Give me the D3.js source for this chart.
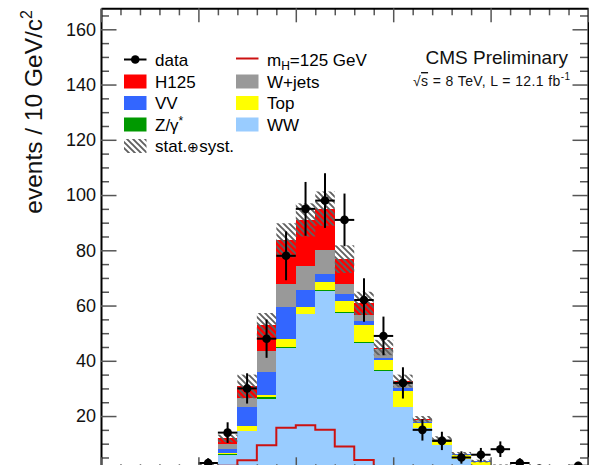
<!DOCTYPE html>
<html>
<head>
<meta charset="utf-8">
<script src="https://d3js.org/d3.v7.min.js"></script>
<style>
body { margin: 0; background: #fff; }
svg { display: block; font-family: "Liberation Sans", Arial, Helvetica, sans-serif; }
</style>
</head>
<body>
<svg id="chart" width="589" height="465"></svg>
<script>
// bin lower edges, 10 GeV wide
const binLow = [0, 10, 20, 30, 40, 50, 60, 70, 80, 90, 100, 110, 120, 130, 140, 150, 160, 170, 180, 190, 200, 210, 220, 230, 240];
const binWidth = 10;

// observed events
const dataCounts = [0, 0, 0, 0, 0, 3, 14, 30, 48, 78, 95, 98, 91, 62, 49, 32, 15, 11, 5, 6, 8, 3, 1, 0, 2];

// stacked backgrounds + signal (bottom to top)
const ww    = [0.2, 0.3, 0.4, 0.5, 0.7, 0.9, 6.0, 14.5, 26.3, 44.8, 56.8, 65.3, 57.3, 46.6, 36.4, 23.2, 15.6, 9.4, 4.3, 2.3, 1.4, 1.0, 0.7, 0.5, 0.9];
const zg    = [0, 0.1, 0.1, 0.1, 0.1, 0.1, 0.1, 0.2, 0.5, 0.3, 0.3, 0.3, 0.2, 0.1, 0.1, 0.1, 0.1, 0, 0, 0, 0, 0, 0, 0, 0];
const topQ  = [0.1, 0.1, 0.1, 0.2, 0.2, 0.2, 0.4, 1.7, 0.8, 2.8, 2.5, 2.9, 4.2, 6.4, 3.7, 5.9, 1.9, 1.9, 1.7, 1.2, 0.5, 0.4, 0.3, 0.2, 0.3];
const vv    = [0.1, 0.1, 0.1, 0.2, 0.2, 0.3, 1.6, 7.0, 8.5, 11.5, 6.0, 2.9, 2.6, 1.3, 0.9, 0.8, 0.3, 0.1, 0.1, 0.1, 0.1, 0.1, 0, 0, 0];
const wjets = [0.2, 0.3, 0.3, 0.3, 0.4, 0.3, 1.8, 3.3, 7.4, 8.4, 8.7, 8.7, 3.5, 2.3, 3.1, 2.3, 0.5, 0.3, 0.2, 0.1, 0.1, 0.1, 0.1, 0, 0.1];
const h125  = [0, 0, 0, 0.1, 0.1, 0.4, 2.0, 4.0, 9.4, 15.8, 16.7, 15.0, 9.0, 4.1, 0.6, 0.4, 0.4, 0.1, 0.1, 0, 0, 0, 0, 0, 0];

// stat+syst uncertainty on the total
const systUnc = [0.3, 0.3, 0.3, 0.3, 0.4, 0.5, 1.4, 4.3, 4.4, 6.2, 6.0, 6.2, 5.0, 4.2, 2.8, 2.3, 1.2, 0.9, 0.6, 0.5, 0.4, 0.3, 0.3, 0.3, 0.3];

// axis ticks
const yMajor = [0, 20, 40, 60, 80, 100, 120, 140, 160];
const xMajor = [0, 50, 100, 150, 200, 250];

const keys = ["WW", "Z", "Top", "VV", "Wjets", "H125"];
const colors = { WW: "#99ccff", Z: "#009900", Top: "#ffff00", VV: "#3366ff", Wjets: "#999999", H125: "#ff0000" };

let svg = d3.select("#chart");

let x = d3.scaleLinear().domain([0, 250]).range([101, 588]);
let y = d3.scaleLinear().domain([0, 167.6]).range([471.3, 8.3]);

// hatch pattern for the uncertainty band
let defs = svg.append("defs");
let pat = defs.append("pattern")
    .attr("id", "hatch")
    .attr("patternUnits", "userSpaceOnUse")
    .attr("width", 6)
    .attr("height", 6);
pat.append("path")
    .attr("d", "M0,0 L6,6 M-1,5 L1,7 M5,-1 L7,1")
    .attr("stroke", "#606060")
    .attr("stroke-width", 1.9);

// stack
let rows = binLow.map((b, i) => ({ x0: b, WW: ww[i], Z: zg[i], Top: topQ[i], VV: vv[i], Wjets: wjets[i], H125: h125[i] }));
let series = d3.stack().keys(keys)(rows);

svg.append("g")
    .selectAll("g")
    .data(series)
    .enter()
    .append("g")
    .attr("fill", d => colors[d.key])
    .selectAll("rect")
    .data(d => d)
    .enter()
    .append("rect")
    .attr("shape-rendering", "crispEdges")
    .attr("x", d => x(d.data.x0))
    .attr("width", d => x(d.data.x0 + binWidth) - x(d.data.x0))
    .attr("y", d => y(d[1]))
    .attr("height", d => y(d[0]) - y(d[1]));

// uncertainty band
let totals = rows.map(r => keys.reduce((s, k) => s + r[k], 0));
svg.append("g")
    .selectAll("rect")
    .data(binLow)
    .enter()
    .append("rect")
    .attr("x", d => x(d))
    .attr("width", d => x(d + binWidth) - x(d))
    .attr("y", (d, i) => y(totals[i] + systUnc[i]))
    .attr("height", (d, i) => y(Math.max(0, totals[i] - systUnc[i])) - y(totals[i] + systUnc[i]))
    .attr("fill", "url(#hatch)");

// signal alone as a line
let sigPts = binLow.map((b, i) => [b, h125[i]]);
sigPts.push([250, h125[h125.length - 1]]);
svg.append("path")
    .datum(sigPts)
    .attr("fill", "none")
    .attr("stroke", "#cc1111")
    .attr("stroke-width", 2)
    .attr("d", d3.line().x(d => x(d[0])).y(d => y(d[1])).curve(d3.curveStepAfter));

// data points
let pts = binLow.map((b, i) => ({ x0: b, n: dataCounts[i] })).filter(d => d.n > 0);
let dg = svg.append("g");
dg.selectAll(".ev")
    .data(pts)
    .enter()
    .append("line")
    .attr("x1", d => x(d.x0 + binWidth / 2))
    .attr("x2", d => x(d.x0 + binWidth / 2))
    .attr("y1", d => y(d.n - Math.sqrt(d.n)))
    .attr("y2", d => y(d.n + Math.sqrt(d.n)))
    .attr("stroke", "#000")
    .attr("stroke-width", 2);
dg.selectAll(".eh")
    .data(pts)
    .enter()
    .append("line")
    .attr("x1", d => x(d.x0))
    .attr("x2", d => x(d.x0 + binWidth))
    .attr("y1", d => y(d.n))
    .attr("y2", d => y(d.n))
    .attr("stroke", "#000")
    .attr("stroke-width", 2);
dg.selectAll("circle")
    .data(pts)
    .enter()
    .append("circle")
    .attr("cx", d => x(d.x0 + binWidth / 2))
    .attr("cy", d => y(d.n))
    .attr("r", 4.3)
    .attr("fill", "#000");

// axes, ROOT style ticks pointing inwards
let yMinor = d3.range(0, 167.6, 5).filter(v => v % 20 !== 0);
let xMinor = d3.range(0, 251, 10).filter(v => v % 50 !== 0);

function styleAxis(g, keepDomain) {
    g.selectAll(".tick line").attr("stroke", "#555").attr("stroke-width", 1.5);
    g.selectAll(".tick text").attr("font-size", 18).attr("fill", "#111")
        .attr("font-family", "'Liberation Sans', Arial, Helvetica, sans-serif");
    if (keepDomain) {
        g.select(".domain").attr("stroke", "#000").attr("stroke-width", 2);
    } else {
        g.select(".domain").remove();
    }
}

svg.append("g").attr("transform", "translate(101,0)")
    .call(d3.axisLeft(y).tickValues(yMinor).tickSize(-8).tickFormat(""))
    .call(g => styleAxis(g, false));
svg.append("g").attr("transform", "translate(101,0)")
    .call(d3.axisLeft(y).tickValues(yMajor).tickSizeInner(-15.5).tickSizeOuter(0).tickPadding(5))
    .call(g => styleAxis(g, true));

svg.append("g").attr("transform", "translate(588,0)")
    .call(d3.axisRight(y).tickValues(yMinor).tickSize(-8).tickFormat(""))
    .call(g => styleAxis(g, false));
svg.append("g").attr("transform", "translate(588,0)")
    .call(d3.axisRight(y).tickValues(yMajor).tickSizeInner(-15.5).tickSizeOuter(0).tickFormat(""))
    .call(g => styleAxis(g, true));

svg.append("g").attr("transform", "translate(0,8.3)")
    .call(d3.axisTop(x).tickValues(xMinor).tickSize(-7).tickFormat(""))
    .call(g => styleAxis(g, false));
svg.append("g").attr("transform", "translate(0,8.3)")
    .call(d3.axisTop(x).tickValues(xMajor).tickSizeInner(-14).tickSizeOuter(0).tickFormat(""))
    .call(g => styleAxis(g, true));

// bottom axis sits just below the visible area; only its inner ticks show
svg.append("g").attr("transform", "translate(0,471.3)")
    .call(d3.axisBottom(x).tickValues(xMinor).tickSize(-7).tickFormat(""))
    .call(g => styleAxis(g, false));
svg.append("g").attr("transform", "translate(0,471.3)")
    .call(d3.axisBottom(x).tickValues(xMajor).tickSizeInner(-14).tickSizeOuter(0).tickFormat(""))
    .call(g => styleAxis(g, true));

// y axis title
let yt = svg.append("text")
    .attr("transform", "translate(42,10) rotate(-90)")
    .attr("text-anchor", "end")
    .attr("font-size", 24.5)
    .attr("fill", "#111");
yt.append("tspan").text("events / 10 GeV/c");
yt.append("tspan").attr("font-size", 16).attr("dy", -10).text("2");

// CMS label
svg.append("text")
    .attr("x", 568).attr("y", 64)
    .attr("text-anchor", "end")
    .attr("font-size", 19)
    .attr("fill", "#111")
    .text("CMS Preliminary");

let lumi = svg.append("text")
    .attr("x", 413).attr("y", 86)
    .attr("font-size", 14)
    .attr("textLength", 157)
    .attr("lengthAdjust", "spacing")
    .attr("fill", "#111");
lumi.append("tspan").text("\u221A");
lumi.append("tspan").attr("text-decoration", "overline").text("s");
lumi.append("tspan").text(" = 8 TeV, L = 12.1 fb");
lumi.append("tspan").attr("font-size", 10).attr("dy", -6).text("-1");

// legend
let rowY = [59.5, 81.5, 103, 124.5, 146];
let col1 = 124, col2 = 236, symW = 22.5, symH = 14;
let lg = svg.append("g").attr("font-size", 17).attr("fill", "#000");

// data entry
lg.append("line").attr("x1", col1).attr("x2", col1 + symW).attr("y1", rowY[0]).attr("y2", rowY[0])
    .attr("stroke", "#000").attr("stroke-width", 2);
lg.append("circle").attr("cx", col1 + symW / 2).attr("cy", rowY[0]).attr("r", 4.3).attr("fill", "#000");
lg.append("text").attr("x", col1 + 31).attr("y", rowY[0] + 6).text("data");

// box entries
let boxes = [
    { col: col1, row: 1, key: "H125", label: "H125" },
    { col: col1, row: 2, key: "VV", label: "VV" },
    { col: col2, row: 1, key: "Wjets", label: "W+jets" },
    { col: col2, row: 2, key: "Top", label: "Top" },
    { col: col2, row: 3, key: "WW", label: "WW" }
];
boxes.forEach(b => {
    lg.append("rect").attr("x", b.col).attr("y", rowY[b.row] - symH / 2)
        .attr("width", symW).attr("height", symH).attr("fill", colors[b.key]);
    lg.append("text").attr("x", b.col + 31).attr("y", rowY[b.row] + 6).text(b.label);
});

lg.append("rect").attr("x", col1).attr("y", rowY[3] - symH / 2)
    .attr("width", symW).attr("height", symH).attr("fill", colors.Z);
let zt = lg.append("text").attr("x", col1 + 31).attr("y", rowY[3] + 6);
zt.append("tspan").text("Z/\u03B3");
zt.append("tspan").attr("font-size", 12).attr("dy", -6).text("*");

lg.append("rect").attr("x", col1).attr("y", rowY[4] - symH / 2)
    .attr("width", symW).attr("height", symH).attr("fill", "url(#hatch)");
let st = lg.append("text").attr("x", col1 + 31).attr("y", rowY[4] + 6);
st.append("tspan").text("stat.");
st.append("tspan").attr("font-size", 14).text("\u2295");
st.append("tspan").text("syst.");

// signal line entry
lg.append("line").attr("x1", col2).attr("x2", col2 + symW).attr("y1", rowY[0] - 1).attr("y2", rowY[0] - 1)
    .attr("stroke", "#cc1111").attr("stroke-width", 2);
let mh = lg.append("text").attr("x", col2 + 31).attr("y", rowY[0] + 6);
mh.append("tspan").text("m");
mh.append("tspan").attr("font-size", 12).attr("dy", 4).text("H");
mh.append("tspan").attr("dy", -4).text("=125 GeV");
</script>
</body>
</html>
